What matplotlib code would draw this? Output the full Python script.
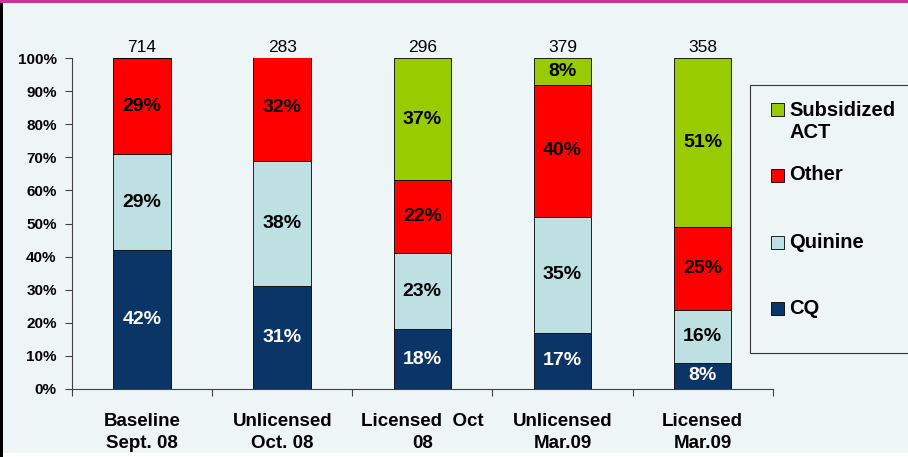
import matplotlib
matplotlib.use('Agg')
import matplotlib.pyplot as plt
import numpy as np
from matplotlib.patches import Rectangle

plt.rcParams['font.family'] = ['Liberation Sans', 'DejaVu Sans']

############ data ############
groups = ['Baseline\nSept. 08', 'Unlicensed\nOct. 08', 'Licensed  Oct\n08', 'Unlicensed\nMar.09', 'Licensed\nMar.09']
totals = [714, 283, 296, 379, 358]
cq = [42, 31, 18, 17, 8]
quinine = [29, 38, 23, 35, 16]
other = [29, 32, 22, 40, 25]
act = [0, 0, 37, 8, 51]

series = [('CQ', cq, '#0B3566', 'white'),
          ('Quinine', quinine, '#BEE0E3', 'black'),
          ('Other', other, '#FF0000', 'black'),
          ('Subsidized\nACT', act, '#99CC00', 'black')]

bg = '#EEF5F7'
fig = plt.figure(figsize=(9.08, 4.57), dpi=100)
fig.patch.set_facecolor(bg)
ax = fig.add_axes([0.0793, 0.1488, 0.7717, 0.7242])
ax.set_facecolor(bg)

x = np.arange(len(groups))
bottom = np.zeros(len(groups))
for name, vals, col, tcol in series:
    vals = np.array(vals, dtype=float)
    ax.bar(x, vals, 0.41, bottom=bottom, color=col, edgecolor='black', linewidth=0.6)
    for i, v in enumerate(vals):
        if v > 0:
            ax.text(x[i], bottom[i] + v / 2, '%d%%' % v, ha='center', va='center',
                    color=tcol, fontsize=14, fontweight='bold')
    bottom += vals

for i, t in enumerate(totals):
    ax.text(x[i], 101, str(t), ha='center', va='bottom', fontsize=12.5)

ax.set_xlim(-0.5, len(groups) - 0.5)
ax.set_ylim(0, 100)
ax.set_yticks(np.arange(0, 101, 10))
ax.set_yticklabels(['%d%%' % v for v in range(0, 101, 10)], fontsize=11, fontweight='bold')
ax.set_xticks(np.arange(-0.5, len(groups), 1.0))
ax.set_xticklabels([])
ax.set_xticks(x, minor=True)
ax.set_xticklabels(groups, minor=True, fontsize=13.5, fontweight='bold', linespacing=1.4)
ax.tick_params(axis='x', which='minor', length=0, pad=17)
ax.tick_params(axis='x', which='major', length=5, direction='out', color='#404040')
ax.tick_params(axis='y', length=5, direction='out', color='#404040', pad=6)
for s in ['top', 'right']:
    ax.spines[s].set_visible(False)
for s in ['left', 'bottom']:
    ax.spines[s].set_color('#404040')
    ax.spines[s].set_linewidth(0.8)

############ legend box ############
W, H = 908.0, 457.0
def fx(px): return px / W
def fy(py): return 1 - py / H
fig.add_artist(Rectangle((fx(750), fy(353)), fx(160), (353 - 85) / H, transform=fig.transFigure,
                         facecolor=bg, edgecolor='#333333', linewidth=0.8))
leg = [('Subsidized\nACT', '#99CC00', 109.5, 122), ('Other', '#FF0000', 175, 175),
       ('Quinine', '#BEE0E3', 242, 242), ('CQ', '#0B3566', 308, 308)]
for name, col, sq_y, txt_y in leg:
    fig.add_artist(Rectangle((fx(771), fy(sq_y + 6.5)), fx(13), 13 / H, transform=fig.transFigure,
                             facecolor=col, edgecolor='black', linewidth=0.6))
    fig.text(fx(789), fy(txt_y), name, ha='left', va='center', fontsize=14.5, fontweight='bold',
             linespacing=1.2)

############ frame decorations ############
fig.add_artist(Rectangle((0, fy(3)), 1, 3 / H, transform=fig.transFigure, facecolor='#CC3399', edgecolor='none'))
fig.add_artist(Rectangle((0, 0), fx(3), fy(3), transform=fig.transFigure, facecolor='black', edgecolor='none'))
fig.add_artist(Rectangle((fx(3), 0), 1, 4 / H, transform=fig.transFigure, facecolor='white', edgecolor='none'))

fig.savefig('out.png', dpi=100, facecolor=fig.get_facecolor())
